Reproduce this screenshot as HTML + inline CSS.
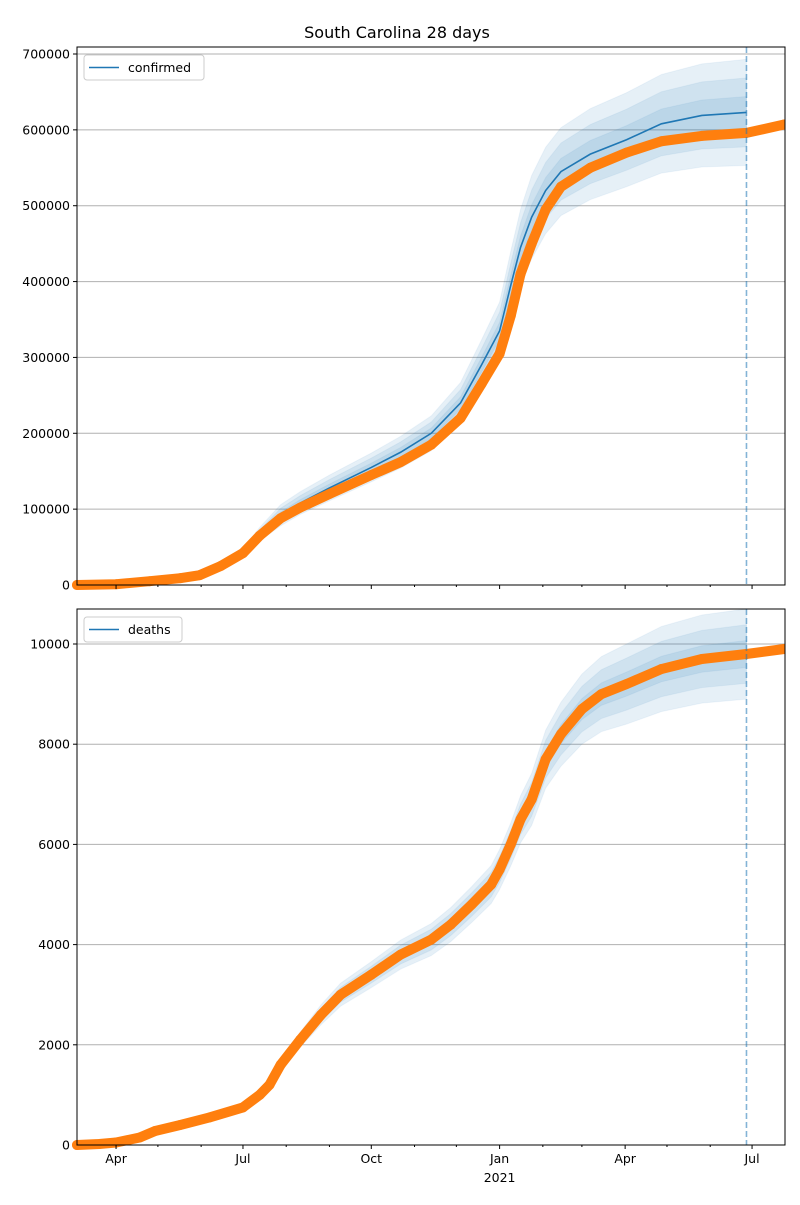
<!DOCTYPE html>
<html><head><meta charset="utf-8">
<style>
body{margin:0;background:#fff;font-family:"Liberation Sans","DejaVu Sans",sans-serif;}
svg text{font-family:"DejaVu Sans","Liberation Sans",sans-serif;font-size:12.5px;fill:#000;}
</style></head>
<body>
<svg id="fig" width="800" height="1200" viewBox="0 0 800 1200" xmlns="http://www.w3.org/2000/svg">
<rect width="800" height="1200" fill="#fff"/>
<text x="397" y="38" text-anchor="middle" style="font-size:16px">South Carolina 28 days</text>
</svg>
<script>
// days since 2020-03-04
const confDays=[0,28,52,74,88,103,119,131,146,160,181,211,232,254,275,290,303,311,318,326,336,347,368,394,419,448,480,507];
const confObs=[0,1000,5000,9000,13000,25000,42000,65000,88000,102000,120000,145000,162000,185000,220000,265000,305000,355000,410000,450000,495000,525000,550000,570000,585000,592000,596000,607000];
const confModel=[0,1000,5000,9000,13000,25000,43000,67000,92000,108000,128000,155000,175000,200000,240000,290000,335000,395000,445000,485000,520000,545000,568000,587000,608000,619000,623000];
const confBand=[0,0,500,1000,1500,3000,5000,9000,14000,15000,17000,19000,21000,23000,27000,33000,38000,45000,50000,55000,57000,58000,60000,62000,65000,68000,70000];
const deathDays=[0,16,28,45,56,74,95,119,131,138,146,160,175,189,211,232,254,268,283,297,303,311,318,326,336,347,362,376,394,419,448,480,507];
const deathObs=[0,20,50,150,280,400,550,750,1000,1200,1600,2100,2600,3000,3400,3800,4100,4400,4800,5200,5500,6000,6500,6900,7700,8200,8700,9000,9200,9500,9700,9800,9900];
const deathModel=[0,20,50,150,280,400,550,750,1000,1200,1600,2100,2600,3000,3400,3800,4100,4400,4800,5200,5500,6000,6500,6900,7700,8200,8700,9000,9200,9500,9700,9800];
const deathBand=[0,5,10,20,30,40,50,60,80,100,120,150,200,230,260,290,320,340,360,380,400,430,470,520,580,640,700,750,800,850,880,900];
const confTicks=[0,100000,200000,300000,400000,500000,600000,700000];
const deathTicks=[0,2000,4000,6000,8000,10000];
const majorDays=[28,119,211,303,393,484];
const majorLabels=["Apr","Jul","Oct","Jan","Apr","Jul"];
const minorDays=[58,89,150,181,242,272,334,362,423,454];
const forecastDay=480;

const NS="http://www.w3.org/2000/svg";
const fig=document.getElementById('fig');
const X0=77,X1=785,DMAX=(785-77)/((752-116)/(484-28));
const xs=d=>X0+d*(X1-X0)/DMAX;
function mk(tag,attrs,parent){const e=document.createElementNS(NS,tag);for(const k in attrs)e.setAttribute(k,attrs[k]);(parent||fig).appendChild(e);return e;}

function panel(cfg){
  const ys=v=>cfg.yb-(v/cfg.vmax)*(cfg.yb-cfg.yt);
  const g=mk('g',{});
  
  
  // grid
  cfg.ticks.forEach(t=>{
    const y=ys(t);
    const l=mk('line',{x1:X0,x2:X1,y1:y,y2:y,stroke:'#b0b0b0','stroke-width':1},g);
    
    
    mk('line',{x1:X0-4,x2:X0,y1:y,y2:y,stroke:'#000'},g);
    const tx=mk('text',{x:X0-7,y:y+4.5,'text-anchor':'end'},g);
    
    
    tx.textContent=t;
  });
  // bands
  const n=cfg.model.length;
  [1,0.65,0.3].forEach(f=>{
    let pts=[];
    for(let i=0;i<n;i++)pts.push(xs(cfg.days[i])+','+ys(cfg.model[i]+cfg.band[i]*f));
    for(let i=n-1;i>=0;i--)pts.push(xs(cfg.days[i])+','+ys(Math.max(0,cfg.model[i]-cfg.band[i]*f)));
    const p=mk('polygon',{points:pts.join(' '),fill:'#1f77b4','fill-opacity':0.11,stroke:'#1f77b4','stroke-opacity':0.06},g);
    
    
  });
  // model line
  let mp=[];for(let i=0;i<n;i++)mp.push(xs(cfg.days[i])+','+ys(cfg.model[i]));
  const ml=mk('polyline',{points:mp.join(' '),fill:'none',stroke:'#1f77b4','stroke-width':1.6},g);
  
  
  // observed
  let op=cfg.obsDays.map((d,i)=>xs(d)+','+ys(cfg.obs[i]));
  const ol=mk('polyline',{points:op.join(' '),fill:'none',stroke:'#ff7f0e','stroke-width':10,'stroke-linecap':'round','stroke-linejoin':'round'},g);
  
  
  cfg.obsDays.forEach((d,i)=>{
    const c=mk('circle',{cx:xs(d),cy:ys(cfg.obs[i]),r:5,fill:'#ff7f0e'},g);
    
    
  });
  // vline
  const vl=mk('line',{x1:xs(forecastDay),x2:xs(forecastDay),y1:cfg.yt,y2:cfg.yb,stroke:'#1f77b4','stroke-opacity':0.55,'stroke-width':1.6,'stroke-dasharray':'6,3'},g);
  
  
  // cover overflow
  mk('rect',{x:X1+0.5,y:cfg.yt-10,width:20,height:cfg.yb-cfg.yt+20,fill:'#fff'},g);
  // frame
  const fr=mk('rect',{x:X0,y:cfg.yt,width:X1-X0,height:cfg.yb-cfg.yt,fill:'none',stroke:'#000','stroke-width':1},g);
  
  
  // x ticks
  majorDays.forEach((d,i)=>{
    mk('line',{x1:xs(d),x2:xs(d),y1:cfg.yb,y2:cfg.yb+4,stroke:'#000'},g);
    if(cfg.labels){
      const t=mk('text',{x:xs(d),y:cfg.yb+18,'text-anchor':'middle'},g);
      
      
      t.textContent=majorLabels[i];
    }
  });
  minorDays.forEach(d=>mk('line',{x1:xs(d),x2:xs(d),y1:cfg.yb,y2:cfg.yb+2,stroke:'#000'},g));
  // legend
  const lg=mk('g',{},g);
  
  
  mk('rect',{x:84,y:cfg.yt+8,width:cfg.lw,height:25,rx:3,fill:'#fff','fill-opacity':0.85,stroke:'#ccc'},lg);
  mk('line',{x1:89,x2:119,y1:cfg.yt+20.5,y2:cfg.yt+20.5,stroke:'#1f77b4','stroke-width':1.6},lg);
  const lt=mk('text',{x:128,y:cfg.yt+25},lg);
  
  
  lt.textContent=cfg.name;
}
panel({name:'confirmed',yt:47,yb:585,vmax:(585-54)/7*0+700000*(585-47)/(585-54),ticks:confTicks,days:confDays,model:confModel,band:confBand,obsDays:confDays,obs:confObs,labels:false,lw:120});
panel({name:'deaths',yt:609,yb:1145,vmax:10000*(1145-609)/(1145-644),ticks:deathTicks,days:deathDays,model:deathModel,band:deathBand,obsDays:deathDays,obs:deathObs,labels:true,lw:98});
const yr=mk('text',{x:xs(303),y:1182,'text-anchor':'middle'});


yr.textContent='2021';
</script>
</body></html>
